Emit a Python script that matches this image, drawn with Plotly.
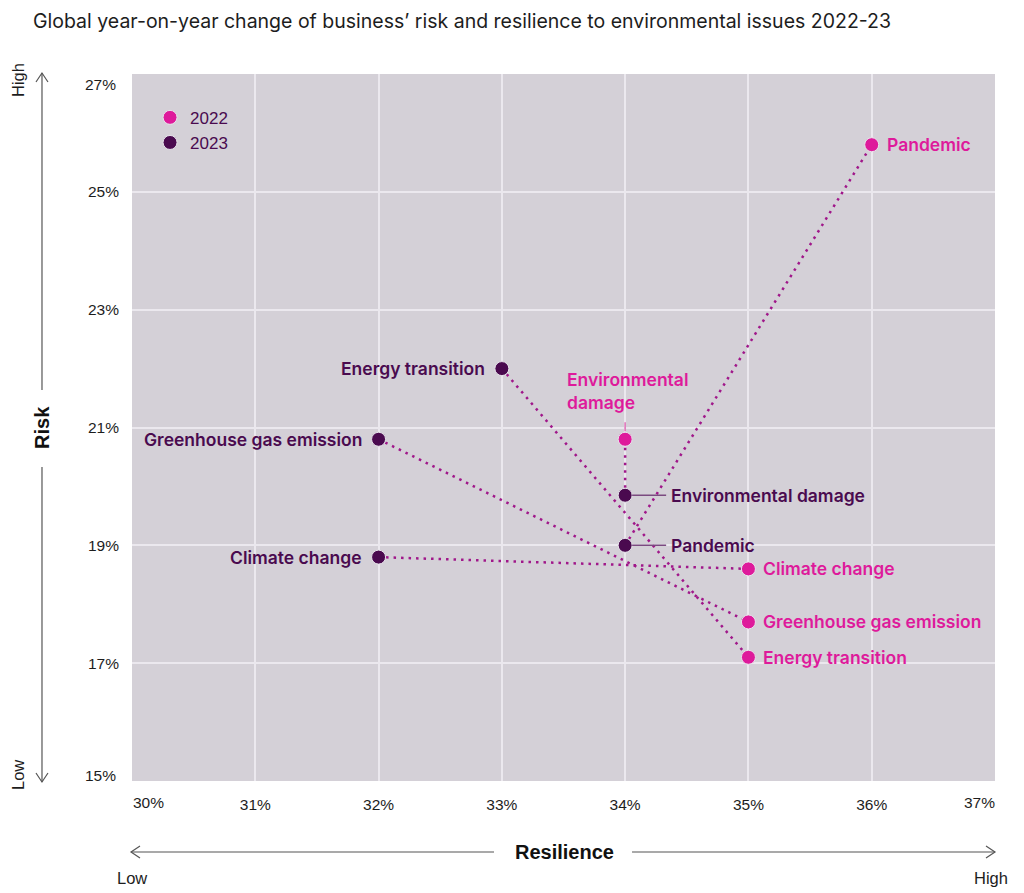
import plotly.graph_objects as go

# ---------------- data ----------------
categories = ["Pandemic", "Environmental damage", "Climate change",
              "Greenhouse gas emission", "Energy transition"]
resilience_2022 = [36.0, 34.0, 35.0, 35.0, 35.0]
risk_2022 = [25.8, 20.8, 18.6, 17.7, 17.1]
resilience_2023 = [34.0, 34.0, 32.0, 32.0, 33.0]
risk_2023 = [19.0, 19.85, 18.8, 20.8, 22.0]
x_ticks = [30, 31, 32, 33, 34, 35, 36, 37]
y_ticks = [15, 17, 19, 21, 23, 25, 27]
title_text = "Global year-on-year change of business\u2019 risk and resilience to environmental issues 2022-23"

# ---------------- style ----------------
PINK = "#de1a9b"
DARK = "#4a0a4f"
LINK = "#a0178a"
BG = "#d4d0d7"
GRID = "#ebe8ee"
TXT = "#1d1d1d"
LABEL_FONT = "Inter"
TICK_FONT = "Liberation Sans"

fig = go.Figure()

# connectors
for i, c in enumerate(categories):
    fig.add_trace(go.Scatter(
        x=[resilience_2023[i], resilience_2022[i]],
        y=[risk_2023[i], risk_2022[i]],
        mode="lines", line=dict(color=LINK, width=2.5, dash="2.5px,5px"),
        showlegend=False, hoverinfo="skip"))

fig.add_trace(go.Scatter(
    x=resilience_2023, y=risk_2023, mode="markers", name="2023",
    marker=dict(color=DARK, size=14, line=dict(color="#e8e4ec", width=1)),
    legendrank=2))
fig.add_trace(go.Scatter(
    x=resilience_2022, y=risk_2022, mode="markers", name="2022",
    marker=dict(color=PINK, size=14, line=dict(color="#e8e4ec", width=1)),
    legendrank=1))

annotations = []
shapes = []
lab_font_p = dict(family=LABEL_FONT, size=17.5, color=PINK, weight=600)
lab_font_d = dict(family=LABEL_FONT, size=17.5, color=DARK, weight=600)

# 2022 labels
for i, c in enumerate(categories):
    if c == "Environmental damage":
        annotations.append(dict(
            x=resilience_2022[i], y=risk_2022[i], text="Environmental<br>damage",
            showarrow=False, xanchor="left", yanchor="bottom", align="left",
            xshift=-60, yshift=24, font=lab_font_p))
        shapes.append(dict(type="line", xref="x", yref="y", x0=resilience_2022[i],
                           x1=resilience_2022[i], ysizemode="pixel",
                           yanchor=risk_2022[i], y0=8, y1=17,
                           line=dict(color="#e070b8", width=1.5)))
    else:
        annotations.append(dict(
            x=resilience_2022[i], y=risk_2022[i], text=c, showarrow=False,
            xanchor="left", yanchor="middle", xshift=13, font=lab_font_p))

# 2023 labels
for i, c in enumerate(categories):
    if c in ("Environmental damage", "Pandemic"):
        annotations.append(dict(
            x=resilience_2023[i], y=risk_2023[i], text=c, showarrow=False,
            xanchor="left", yanchor="middle", xshift=44, font=lab_font_d))
        shapes.append(dict(type="line", xref="x", yref="y", y0=risk_2023[i],
                           y1=risk_2023[i], xsizemode="pixel",
                           xanchor=resilience_2023[i], x0=7, x1=41,
                           line=dict(color="#7b4a80", width=1.5)))
    else:
        annotations.append(dict(
            x=resilience_2023[i], y=risk_2023[i], text=c, showarrow=False,
            xanchor="right", yanchor="middle", xshift=-15, font=lab_font_d))

tick_font = dict(family=TICK_FONT, size=15.5, color=TXT)

# end tick labels (shifted inward like the reference)
annotations += [
    dict(x=x_ticks[0], y=-0.031, xref="x", yref="paper", text=f"{x_ticks[0]}%",
         showarrow=False, xanchor="left", yanchor="middle", font=tick_font, xshift=-1),
    dict(x=x_ticks[-1], y=-0.031, xref="x", yref="paper", text=f"{x_ticks[-1]}%",
         showarrow=False, xanchor="right", yanchor="middle", font=tick_font, xshift=2),
    dict(x=-0.0162, y=y_ticks[-1], xref="paper", yref="y", text=f"{y_ticks[-1]}%",
         showarrow=False, xanchor="right", yanchor="middle", font=tick_font, yshift=-10),
    dict(x=-0.0162, y=y_ticks[0], xref="paper", yref="y", text=f"{y_ticks[0]}%",
         showarrow=False, xanchor="right", yanchor="middle", font=tick_font, yshift=6),
]

# axis decoration texts
axis_bold = dict(family=TICK_FONT, size=20, color="#111111", weight="bold")
axis_reg = dict(family=TICK_FONT, size=16.5, color=TXT)
annotations += [
    dict(x=-0.1043, y=0.5007, xref="paper", yref="paper", text="Risk", textangle=-90,
         showarrow=False, font=axis_bold, xanchor="center", yanchor="middle"),
    dict(x=-0.1321, y=0.9915, xref="paper", yref="paper", text="High", textangle=-90,
         showarrow=False, font=axis_reg, xanchor="center", yanchor="middle"),
    dict(x=-0.1321, y=0.0085, xref="paper", yref="paper", text="Low", textangle=-90,
         showarrow=False, font=axis_reg, xanchor="center", yanchor="middle"),
    dict(x=0.5006, y=-0.1004, xref="paper", yref="paper", text="Resilience",
         showarrow=False, font=axis_bold, xanchor="center", yanchor="middle"),
    dict(x=0.0, y=-0.1372, xref="paper", yref="paper", text="Low",
         showarrow=False, font=axis_reg, xanchor="center", yanchor="middle"),
    dict(x=0.9954, y=-0.1372, xref="paper", yref="paper", text="High",
         showarrow=False, font=axis_reg, xanchor="center", yanchor="middle"),
]

# arrows (paper coordinates; 863 px wide, 707 px tall)
PX = 1 / 863
PY = 1 / 707
ARR = dict(color="#555555", width=1.2)
xv = -0.1043
yh = -0.1004
shapes += [
    dict(type="line", xref="paper", yref="paper", x0=xv, x1=xv, y0=0.553, y1=1.0014, line=ARR),
    dict(type="path", xref="paper", yref="paper", line=ARR,
         path=f"M {xv-6*PX} {1.0014-9*PY} L {xv} {1.0014} L {xv+6*PX} {1.0014-9*PY}"),
    dict(type="line", xref="paper", yref="paper", x0=xv, x1=xv, y0=-0.0014, y1=0.4441, line=ARR),
    dict(type="path", xref="paper", yref="paper", line=ARR,
         path=f"M {xv-6*PX} {-0.0014+9*PY} L {xv} {-0.0014} L {xv+6*PX} {-0.0014+9*PY}"),
    dict(type="line", xref="paper", yref="paper", x0=-1*PX, x1=0.4195, y0=yh, y1=yh, line=ARR),
    dict(type="path", xref="paper", yref="paper", line=ARR,
         path=f"M {8*PX} {yh+6*PY} L {-1*PX} {yh} L {8*PX} {yh-6*PY}"),
    dict(type="line", xref="paper", yref="paper", x0=0.5794, x1=1.0, y0=yh, y1=yh, line=ARR),
    dict(type="path", xref="paper", yref="paper", line=ARR,
         path=f"M {1.0-9*PX} {yh+6*PY} L {1.0} {yh} L {1.0-9*PX} {yh-6*PY}"),
]

fig.update_layout(
    width=1024, height=893, autosize=False,
    margin=dict(l=124, r=37, t=66, b=120),
    paper_bgcolor="white", plot_bgcolor=BG,
    title=dict(text=title_text, x=25 / 1024, xref="container", xanchor="left",
               y=1 - 13 / 893, yref="container", yanchor="middle",
               font=dict(family=LABEL_FONT, size=19.5, color=TXT)),
    xaxis=dict(range=[x_ticks[0], x_ticks[-1]], tickvals=x_ticks[1:-1],
               ticktext=[f"{v}%" for v in x_ticks[1:-1]], showgrid=True,
               gridcolor=GRID, gridwidth=2, zeroline=False, showline=False,
               tickfont=tick_font, ticks="", ticklabelstandoff=12, fixedrange=True),
    yaxis=dict(range=[y_ticks[0], y_ticks[-1]], tickvals=y_ticks[1:-1],
               ticktext=[f"{v}%" for v in y_ticks[1:-1]], showgrid=True,
               gridcolor=GRID, gridwidth=2, zeroline=False, showline=False,
               tickfont=tick_font, ticks="", ticklabelstandoff=12, fixedrange=True),
    legend=dict(x=0.0209, y=0.9635, xanchor="left", yanchor="top", bgcolor="rgba(0,0,0,0)",
                font=dict(family=TICK_FONT, size=17, color=DARK), itemclick=False,
                traceorder="normal"),
    annotations=annotations, shapes=shapes,
)

fig.write_html("out.html")
